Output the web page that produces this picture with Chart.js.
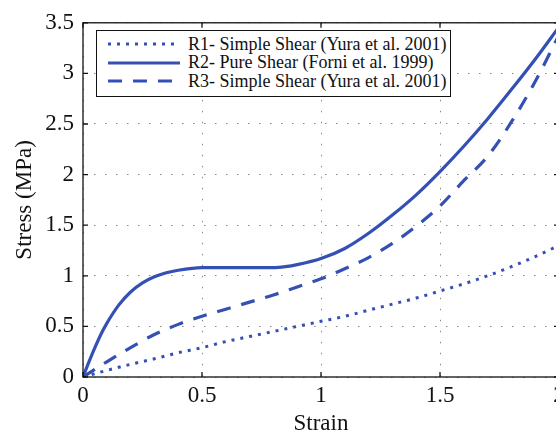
<!DOCTYPE html>
<html>
<head>
<meta charset="utf-8">
<script src="https://cdn.jsdelivr.net/npm/chart.js@4/dist/chart.umd.min.js"></script>
<style>
  html, body { margin: 0; padding: 0; background: #fff; overflow: hidden; }
  #wrap { position: relative; width: 580px; height: 438px; }
  #legend {
    position: absolute; left: 96px; top: 30px; width: 355px; height: 67px;
    border: 1px solid #111; background: #fff;
    font-family: 'Liberation Serif', 'DejaVu Serif', serif; font-size: 18px; color: #111;
    padding-top: 4px; box-sizing: border-box;
  }
  #legend .row { display: flex; align-items: center; height: 18.5px; white-space: nowrap; }
  #legend svg { margin-left: 11px; margin-right: 8px; flex: none; }
</style>
</head>
<body>
<div id="wrap">
  <canvas id="chart"></canvas>
  <div id="legend"></div>
</div>
<script>
// strain (x) and stress (MPa) values
const r1Strain = [0, 0.1, 0.2, 0.3, 0.4, 0.5, 0.6, 0.7, 0.8, 0.9, 1.0, 1.1, 1.2, 1.3, 1.4, 1.5, 1.6, 1.7, 1.8, 1.9, 2.0];
const r1Stress = [0, 0.065, 0.125, 0.18, 0.24, 0.29, 0.35, 0.4, 0.45, 0.5, 0.55, 0.6, 0.66, 0.72, 0.78, 0.85, 0.92, 1.0, 1.09, 1.19, 1.3];

const r2Strain = [0, 0.025, 0.05, 0.075, 0.1, 0.15, 0.2, 0.25, 0.3, 0.35, 0.4, 0.5, 0.6, 0.7, 0.8, 0.85, 0.9, 1.0, 1.1, 1.2, 1.3, 1.4, 1.5, 1.6, 1.7, 1.8, 1.9, 2.0];
const r2Stress = [0, 0.15, 0.29, 0.42, 0.53, 0.71, 0.84, 0.93, 0.99, 1.03, 1.055, 1.08, 1.08, 1.08, 1.08, 1.09, 1.11, 1.17, 1.27, 1.42, 1.6, 1.8, 2.03, 2.28, 2.55, 2.84, 3.14, 3.46];

const r3Strain = [0, 0.1, 0.2, 0.3, 0.4, 0.5, 0.6, 0.7, 0.8, 0.9, 1.0, 1.1, 1.2, 1.3, 1.4, 1.5, 1.6, 1.7, 1.8, 1.9, 2.0];
const r3Stress = [0, 0.15, 0.29, 0.42, 0.52, 0.6, 0.67, 0.74, 0.81, 0.89, 0.97, 1.07, 1.18, 1.32, 1.49, 1.69, 1.94, 2.18, 2.52, 2.92, 3.38];

const seriesLabels = [
    'R1- Simple Shear (Yura et al. 2001)',
    'R2- Pure Shear (Forni et al. 1999)',
    'R3- Simple Shear (Yura et al. 2001)'
];

const lineColor = '#3450b4';
const serif = "'Liberation Serif', 'DejaVu Serif', serif";

const toPoints = (xs, ys) => xs.map((x, i) => ({ x: x, y: ys[i] }));

// MATLAB style box and inward ticks
const boxPlugin = {
    id: 'box',
    afterDraw(chart) {
        const { ctx, chartArea: a, scales } = chart;
        ctx.save();
        ctx.strokeStyle = '#111';
        ctx.lineWidth = 1.3;
        ctx.strokeRect(a.left, a.top, a.right - a.left, a.bottom - a.top);
        const len = 5;
        ctx.beginPath();
        scales.x.ticks.forEach(t => {
            const px = scales.x.getPixelForValue(t.value);
            ctx.moveTo(px, a.bottom); ctx.lineTo(px, a.bottom - len);
            ctx.moveTo(px, a.top); ctx.lineTo(px, a.top + len);
        });
        scales.y.ticks.forEach(t => {
            const py = scales.y.getPixelForValue(t.value);
            ctx.moveTo(a.left, py); ctx.lineTo(a.left + len, py);
            ctx.moveTo(a.right, py); ctx.lineTo(a.right - len, py);
        });
        ctx.stroke();
        ctx.restore();
    }
};

const plainNumber = value => String(value);

const chart = new Chart(document.getElementById('chart'), {
    type: 'line',
    data: {
        datasets: [
            {
                label: seriesLabels[0],
                data: toPoints(r1Strain, r1Stress),
                borderColor: lineColor,
                borderWidth: 3,
                borderDash: [3, 6],
            },
            {
                label: seriesLabels[1],
                data: toPoints(r2Strain, r2Stress),
                borderColor: lineColor,
                borderWidth: 3.2,
            },
            {
                label: seriesLabels[2],
                data: toPoints(r3Strain, r3Stress),
                borderColor: lineColor,
                borderWidth: 3.2,
                borderDash: [14, 11],
            }
        ]
    },
    options: {
        responsive: true,
        maintainAspectRatio: false,
        animation: false,
        layout: { padding: { top: 17, right: 21, left: 0, bottom: 0 } },
        elements: {
            point: { radius: 0 },
            line: { cubicInterpolationMode: 'monotone', fill: false }
        },
        plugins: {
            legend: { display: false },
            tooltip: { enabled: false }
        },
        scales: {
            x: {
                type: 'linear',
                min: 0,
                max: 2,
                afterFit: s => { s.height = 61; },
                ticks: { stepSize: 0.5, color: '#111', padding: 5, callback: plainNumber, font: { family: serif, size: 23 } },
                grid: { color: '#888', lineWidth: 1, drawTicks: false },
                border: { display: false, dash: [1.5, 9.5] },
                title: { display: true, text: 'Strain', color: '#111', padding: 0, font: { family: serif, size: 23 } }
            },
            y: {
                min: 0,
                max: 3.5,
                afterFit: s => { s.width = 83; },
                ticks: { stepSize: 0.5, color: '#111', padding: 9, callback: plainNumber, font: { family: serif, size: 23 } },
                grid: { color: '#888', lineWidth: 1, drawTicks: false },
                border: { display: false, dash: [1.5, 9.5] },
                title: { display: true, text: 'Stress (MPa)', color: '#111', padding: { top: 11, bottom: 0 }, font: { family: serif, size: 23 } }
            }
        }
    },
    plugins: [boxPlugin]
});

// legend inside the plot, built from the datasets
const legendEl = document.getElementById('legend');
chart.data.datasets.forEach(ds => {
    const row = document.createElement('div');
    row.className = 'row';
    const dash = ds.borderDash ? ds.borderDash.join(' ') : 'none';
    row.innerHTML = '<svg width="72" height="6"><line x1="0" y1="3" x2="72" y2="3" stroke="' + ds.borderColor +
        '" stroke-width="3" stroke-dasharray="' + dash + '"/></svg><span>' + ds.label + '</span>';
    legendEl.appendChild(row);
});
</script>
</body>
</html>
